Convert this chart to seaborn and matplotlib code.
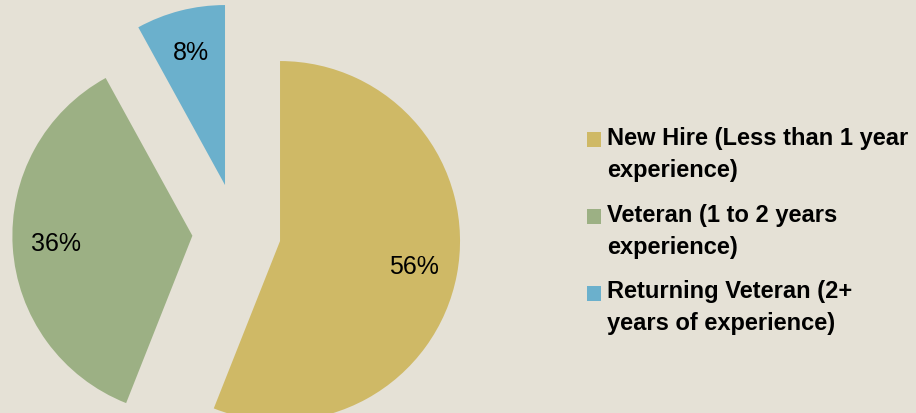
import matplotlib
matplotlib.use("Agg")
import matplotlib.pyplot as plt
import seaborn as sns
from matplotlib.patches import Patch, Rectangle
from matplotlib.legend_handler import HandlerPatch

# ---- data ----
categories = [
    "New Hire (Less than 1 year\nexperience)",
    "Veteran (1 to 2 years\nexperience)",
    "Returning Veteran (2+\nyears of experience)",
]
shares = [56, 36, 8]
colors = ["#CFB966", "#9CB084", "#6BB0CC"]

sns.set_theme(style="white")
plt.rcParams['font.family'] = ['Liberation Sans', 'DejaVu Sans']

W, H = 916, 413
fig = plt.figure(figsize=(W / 100, H / 100), dpi=100)
bg = "#E5E1D6"
fig.patch.set_facecolor(bg)
ax = fig.add_axes([0, 0, 1, 1])
ax.set_facecolor(bg)

palette = sns.color_palette(colors)
wedges, texts, autotexts = ax.pie(
    shares, colors=palette, startangle=90, counterclock=False,
    center=(237.3, 180.1), radius=180, explode=[43.5, 45, 49.4],
    autopct=lambda p: f"{p:.0f}%", pctdistance=0.76,
    wedgeprops=dict(linewidth=0), frame=True,
    textprops=dict(fontsize=18, color="black"),
)
ax.set_xlim(0, W)
ax.set_ylim(0, H)
ax.set_axis_off()

LINE_SHIFT = 11.0  # points: lift the swatch to the first text line


def top_swatch(legend, orig_handle, xdescent, ydescent, width, height, fontsize):
    return Rectangle((-xdescent, -ydescent + LINE_SHIFT), width, height)


handles = [Patch(facecolor=c, edgecolor="none") for c in palette]
leg = ax.legend(
    handles, categories, loc="upper left",
    bbox_to_anchor=(587 / W, 1 - 127 / H), bbox_transform=fig.transFigure,
    frameon=False, prop=dict(size=17, weight="bold"),
    handlelength=0.6, handleheight=0.6, handletextpad=0.25,
    labelspacing=0.92, borderpad=0, borderaxespad=0,
    handler_map={Patch: HandlerPatch(patch_func=top_swatch)},
)
for t in leg.get_texts():
    t.set_linespacing(1.5)
    t.set_color("black")

fig.savefig("out.png", dpi=100, facecolor=bg)
